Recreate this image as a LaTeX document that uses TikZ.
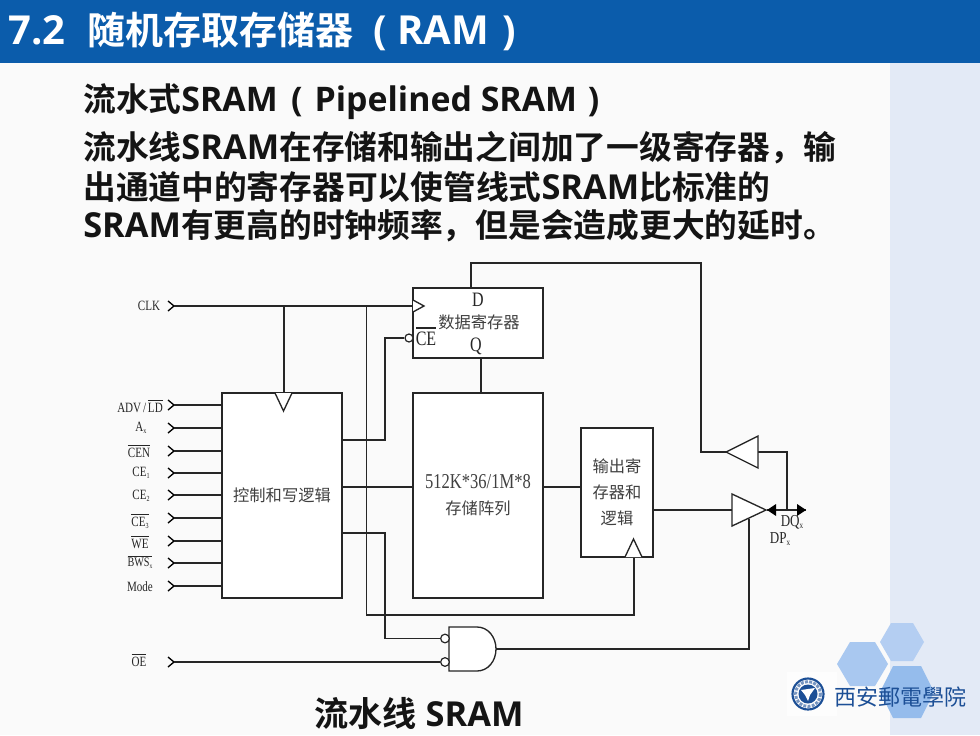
\documentclass[tikz,border=0pt]{standalone}
\usepackage{fontspec}
\setmainfont{Liberation Serif}
\newfontfamily\cjkb[BoldFont=*]{Noto Sans CJK SC Bold}
\newfontfamily\cjkr{Noto Sans CJK SC}
\newfontfamily\latb{Open Sans Bold}
\definecolor{barblue}{HTML}{0B5CAB}
\definecolor{pagebg}{HTML}{FAFAFA}
\definecolor{sidebg}{HTML}{E3EAF6}
\definecolor{inkline}{HTML}{262626}
\definecolor{hexa}{HTML}{A9C8F0}
\definecolor{hexb}{HTML}{B4CEF2}
\definecolor{hexc}{HTML}{95BCEC}
\definecolor{sealblue}{HTML}{1C4F96}
\newcommand\ovl[1]{\ensuremath{\overline{\hbox{#1}}}}
\newcommand\sbs[1]{\raisebox{-0.3ex}{\scalebox{0.55}{#1}}}
\newcommand\tall[1]{\scalebox{1}[1.28]{#1}}
\tikzset{
  wire/.style={draw=inkline,line width=1.05pt},
  blk/.style={draw=inkline,line width=1.15pt,fill=white,inner sep=0pt,outer sep=0pt,text=black!75,align=center,font=\cjkr\fontsize{12.2}{19.6}\selectfont},
  pin/.style={font=\fontsize{8.3}{9}\selectfont,text=black!85,inner sep=0pt},
  chev/.style={draw=black,line width=1pt},
  tri/.style={draw=inkline,line width=1pt,fill=white},
  bub/.style={draw=inkline,line width=.9pt,fill=white,circle,minimum size=6.5pt,inner sep=0pt},
  heading/.style={anchor=west,inner sep=0pt,text=black!92},
}
\newcommand\inpin[2]{% name, y
  \coordinate (in#1) at (174,#2);
  \draw[chev] (168,#2-5) -- (174,#2) -- (168,#2+5);
}
\newcommand\pinlabel[4]{\node[pin] (lbl#1) at (#2,#3) {\tall{#4}};}
\newcommand\Lt[1]{{\latb\fontsize{30}{30}\selectfont #1}}
\newcommand\Hd[1]{{\latb\fontsize{25.8}{30}\selectfont #1}}
\newcommand\Hs[1]{{\latb\fontsize{25.4}{30}\selectfont #1}}
\newcommand\Ch[1]{{\cjkb #1}}
\begin{document}
\begin{tikzpicture}[x=0.75pt,y=-0.75pt]
\useasboundingbox (0,0) rectangle (980,735);
\fill[pagebg] (0,0) rectangle (980,735);
\fill[sidebg] (890,0) rectangle (980,735);
\fill[barblue] (0,0) rectangle (980,63);
% logo hexagons
\fill[hexb] (880,642) -- (891,623) -- (913,623) -- (924,642) -- (913,661) -- (891,661) -- cycle;
\fill[hexa] (837,664) -- (850,642) -- (875,642) -- (888,664) -- (875,686) -- (850,686) -- cycle;
\fill[hexc] (880,692) -- (893,666) -- (921,666) -- (934,692) -- (921,718) -- (893,718) -- cycle;
\fill[white!70!pagebg] (787,672) rectangle (837,716);
\draw[sealblue,line width=1.6pt] (808,694) circle[radius=15.5];
\draw[sealblue!60,line width=2.2pt,densely dotted] (808,694) circle[radius=12.5];
\fill[sealblue] (808,694) circle[radius=9.5];
\fill[white] (801,690) -- (815,688) -- (810,695) -- (808,701) -- (805,695) -- cycle;
\node[inner sep=0pt,text=sealblue] (school) at (900,697) {\cjkr\fontsize{16.5}{17}\selectfont 西安郵電學院};
% headings
\node[anchor=west,inner sep=0pt,text=white] (title) at (8,31) {\fontsize{28.5}{30}\selectfont\Lt{7.2}\hspace{16.5pt}\Ch{随机存取存储器}\hspace{15pt}\Lt{(}\hspace{8pt}\Lt{RAM}\hspace{10pt}\Lt{)}};
\node[heading] (h1) at (83,102) {\fontsize{24.55}{30}\selectfont\Ch{流水式}\Hs{SRAM}\hspace{10pt}\Hs{(}\hspace{9pt}\Hs{Pipelined SRAM}\hspace{8pt}\Hs{)}};
\node[heading] (h2) at (83,148) {\fontsize{24.55}{30}\selectfont\Ch{流水线}\Hd{SRAM}\Ch{在存储和输出之间加了一级寄存器，输}};
\node[heading] (h3) at (83,187) {\fontsize{24.55}{30}\selectfont\Ch{出通道中的寄存器可以使管线式}\Hd{SRAM}\Ch{比标准的}};
\node[heading] (h4) at (83,226) {\fontsize{24.55}{30}\selectfont\Hd{SRAM}\Ch{有更高的时钟频率，但是会造成更大的延时。}};
\node[heading] (cap) at (314,713) {\fontsize{25.6}{30}\selectfont\Ch{流水线}\Hd{ SRAM}};
% blocks
\node[blk,minimum width=90pt,minimum height=153.75pt] (ctrl) at (282,495.5) {控制和写逻辑};
\node[blk,minimum width=97.5pt,minimum height=153.75pt] (mem) at (478,495.5) {\fontsize{12.4}{18}\selectfont{\rmfamily\tall{512K*36/1M*8}}\\存储阵列};
\node[blk,minimum width=97.5pt,minimum height=52.5pt] (reg) at (478,323) {};
\node[blk,minimum width=54pt,minimum height=96.75pt] (out) at (617,492.5) {输出寄\\存器和\\逻辑};
\node[inner sep=0pt,font=\cjkr\fontsize{12.2}{14}\selectfont,text=black!75] (regtxt) at (479,322) {数据寄存器};
\node[pin,font=\fontsize{12}{13}\selectfont] (regd) at (478,300) {\tall{D}};
\node[pin,font=\fontsize{12}{13}\selectfont] (regq) at (476,346) {\tall{Q}};
\node[pin,font=\fontsize{12}{13}\selectfont] (regce) at (426,339) {\tall{CE}};
\draw[wire,line width=.8pt] (416,328) -- (436,328);
% pins
\inpin{clk}{306}
\inpin{adv}{405}
\inpin{ax}{428}
\inpin{cen}{451}
\inpin{cea}{473}
\inpin{ceb}{495}
\inpin{cec}{518}
\inpin{we}{541}
\inpin{bws}{563}
\inpin{mode}{586}
\inpin{oe}{662}
\pinlabel{clk}{149}{306}{CLK}
\pinlabel{adv}{140}{406}{ADV\,/\,\ovl{LD}}
\pinlabel{ax}{141}{428}{A\sbs{x}}
\pinlabel{cen}{139}{451}{\ovl{CEN}}
\pinlabel{cea}{141}{473}{CE\sbs{1}}
\pinlabel{ceb}{141}{496}{CE\sbs{2}}
\pinlabel{cec}{140}{521}{\ovl{CE\sbs{3}}}
\pinlabel{we}{140}{542}{\ovl{WE}}
\pinlabel{bws}{140}{562}{\scalebox{.92}{\ovl{BWS\sbs{x}}}}
\pinlabel{mode}{140}{587}{Mode}
\pinlabel{oe}{139}{660}{\ovl{OE}}
\foreach \n in {adv,ax,cen,cea,ceb,cec,we,bws,mode}
  \draw[wire] (in\n) -- (in\n -| ctrl.west);
% gate
\coordinate (gatea) at (445,638.5);
\coordinate (gateb) at (445,662);
\coordinate (gateo) at (496,649);
\draw[tri] (449,627) -- (477,627) .. controls (488,627) and (496,637) .. (496,649) .. controls (496,661) and (488,671) .. (477,671) -- (449,671) -- cycle;
\node[bub] (buba) at (gatea) {};
\node[bub] (bubb) at (gateb) {};
% clocks and buffers
\coordinate (cctrl) at (283.5,393);
\coordinate (creg) at (413,306);
\coordinate (cout) at (633.5,557);
\coordinate (dbufin) at (732,510);
\coordinate (dbufen) at (749,519);
\coordinate (dbufout) at (766,510);
\coordinate (fbin) at (758,452);
\coordinate (fbout) at (726,452);
\coordinate (bus) at (787,510);
\coordinate (busl) at (767,510);
\coordinate (busr) at (806,510);
\node[bub,minimum size=6pt] (bubce) at (409,338) {};
% connectors
\draw[wire] (inclk) -- (creg);
\draw[wire] (284,306) -- (284,393);
\draw[wire,line width=1.3pt] (366.4,306) |- (633.8,615) -- (633.8,557);
\draw[wire] (ctrl.east |- 0,440) -| (385,338) -- (bubce);
\draw[wire] (ctrl.east |- 0,487) -- (mem.west |- 0,487);
\draw[wire] (ctrl.east |- 0,533) -| (385,638.5) -- (buba);
\draw[wire] (inoe) -- (bubb);
\draw[wire] (reg.south -| 481,0) -- (mem.north -| 481,0);
\draw[wire] (mem.east |- 0,487) -- (out.west |- 0,487);
\draw[wire] (out.east |- dbufin) -- (dbufin);
\draw[wire] (gateo) -| (dbufen);
\draw[wire] (fbout) -| (701,263) -| (reg.north -| 471,0);
\draw[wire] (bus) |- (fbin);
\draw[wire] (busl) -- (busr);
\fill[black] (767,510) -- (776,504) -- (776,516) -- cycle;
\fill[black] (806,510) -- (797,504) -- (797,516) -- cycle;
\draw[tri] (413,300) -- (424,306) -- (413,312);
\draw[tri] (275,393) -- (283.5,411) -- (292,393);
\draw[tri] (625,557) -- (633.5,539) -- (642,557);
\draw[tri] (732,494) -- (766,510) -- (732,526) -- cycle;
\draw[tri] (758,436) -- (726,452) -- (758,468) -- cycle;
\node[pin,font=\fontsize{9.8}{10}\selectfont] (dq) at (792,522) {\tall{DQ\sbs{x}}};
\node[pin,font=\fontsize{9.8}{10}\selectfont] (dp) at (780,539) {\tall{DP\sbs{x}}};
\end{tikzpicture}
\end{document}
